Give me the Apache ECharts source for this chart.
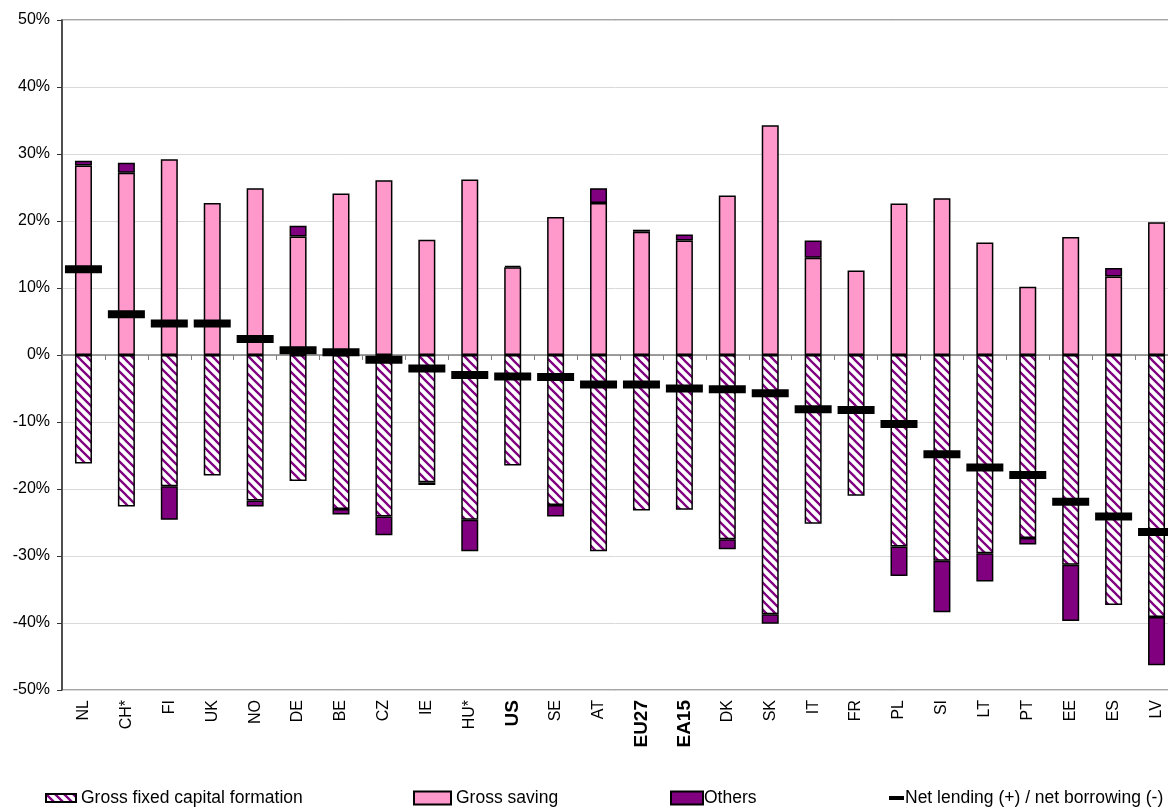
<!DOCTYPE html>
<html>
<head>
<meta charset="utf-8">
<script src="https://cdn.jsdelivr.net/npm/echarts@6/dist/echarts.min.js"></script>
<style>
html,body{margin:0;padding:0;background:#fff;overflow:hidden;}
#chart{width:1168px;height:809px;}
</style>
</head>
<body>
<div id="chart"></div>
<script>
const categories = ['NL','CH*','FI','UK','NO','DE','BE','CZ','IE','HU*','US','SE','AT','EU27','EA15','DK','SK','IT','FR','PL','SI','LT','PT','EE','ES','LV'];
const boldCats = ['US','EU27','EA15'];
const gfcf = [-16.2,-22.6,-19.6,-18.0,-21.7,-18.8,-23.0,-24.1,-19.0,-24.6,-16.5,-22.4,-29.3,-23.2,-23.1,-27.5,-38.7,-25.2,-21.0,-28.6,-30.7,-29.6,-27.3,-31.3,-37.3,-39.1];
const saving = [28.3,27.2,29.2,22.7,24.9,17.7,24.1,26.1,17.2,26.2,13.1,20.6,22.7,18.4,17.1,23.8,34.3,14.5,12.6,22.6,23.4,16.8,10.2,17.6,11.7,19.8];
const others = [0.7,1.5,-5.0,null,-0.9,1.6,-0.8,-2.8,-0.4,-4.7,0.2,-1.7,2.2,0.3,0.9,-1.5,-1.4,2.6,null,-4.4,-7.7,-4.2,-1.0,-8.4,1.3,-7.2];
const netLending = [12.8,6.1,4.7,4.7,2.4,0.7,0.4,-0.7,-2.0,-3.0,-3.2,-3.3,-4.4,-4.4,-5.0,-5.1,-5.7,-8.1,-8.2,-10.3,-14.8,-16.8,-17.9,-21.9,-24.1,-26.4];
const yTicks = {min:-50, max:50, interval:10};

const FONT = "'Liberation Sans', Arial, sans-serif";

function makeHatch(){
  const s = 9;
  const c = document.createElement('canvas');
  c.width = s; c.height = s;
  const g = c.getContext('2d');
  g.fillStyle = '#ffffff';
  g.fillRect(0,0,s,s);
  g.strokeStyle = '#800080';
  g.lineWidth = 2.3;
  g.beginPath();
  g.moveTo(-2,-2); g.lineTo(s+2,s+2);
  g.moveTo(-2,s-2); g.lineTo(2,s+2);
  g.moveTo(s-2,-2); g.lineTo(s+2,2);
  g.stroke();
  return c;
}
const hatch = {image: makeHatch(), repeat: 'repeat'};

const chart = echarts.init(document.getElementById('chart'), null, {renderer:'canvas'});

function legendAt(left, name, w, h, gap){
  return {orient:'horizontal', top:789, left:left, padding:0, itemGap:0, icon:'rect',
    data:[name], itemWidth:w, itemHeight:h,
    textStyle:{fontFamily:FONT, fontSize:17.5, color:'#000', padding:[0,0,0,gap-5]}};
}

chart.setOption({
  animation:false,
  backgroundColor:'#fff',
  textStyle:{fontFamily:FONT},
  grid:{left:62, width:1116, top:20, bottom:119, show:true, borderColor:'#888', borderWidth:1.5,
        containLabel:false, outerBoundsMode:'none'},
  legend:[
    legendAt(45, 'Gross fixed capital formation', 30, 8, 5),
    legendAt(413, 'Gross saving', 37, 13, 5),
    legendAt(670, 'Others', 32, 13, 1),
    legendAt(889, 'Net lending (+) / net borrowing (-)', 15, 4, 1)
  ],
  xAxis:[
    {type:'category', data:categories, position:'bottom',
     axisLine:{show:false, onZero:false}, axisTick:{show:false},
     axisLabel:{rotate:90, interval:0, margin:10, fontSize:16, color:'#000', fontFamily:FONT,
       formatter:function(v){ return boldCats.indexOf(v)>=0 ? '{b|'+v+'}' : v; },
       rich:{b:{fontWeight:'bold', fontSize:19, fontFamily:FONT, color:'#000'}}},
     splitLine:{show:false}},
    {type:'category', data:categories, position:'top',
     axisLine:{show:true, onZero:true, lineStyle:{color:'#808080', width:1.5}},
     axisTick:{show:true, inside:true, length:5, interval:0, lineStyle:{color:'#808080', width:1}},
     axisLabel:{show:false}, splitLine:{show:false}}
  ],
  yAxis:{type:'value', min:yTicks.min, max:yTicks.max, interval:yTicks.interval,
    axisLine:{show:true, lineStyle:{color:'#333', width:1.5}},
    axisTick:{show:true, length:5, lineStyle:{color:'#333', width:1}},
    axisLabel:{formatter:'{value}%', fontSize:16, color:'#000', margin:12, fontFamily:FONT},
    splitLine:{show:true, lineStyle:{color:'#d9d9d9', width:1}}},
  series:[
    {name:'Gross fixed capital formation', type:'bar', stack:'s', data:gfcf, barWidth:17, xAxisIndex:0,
     itemStyle:{color:hatch, borderColor:'#000', borderWidth:1.5}},
    {name:'Gross saving', type:'bar', stack:'s', data:saving, barWidth:17, xAxisIndex:0,
     itemStyle:{color:'#ff99cc', borderColor:'#000', borderWidth:1.5}},
    {name:'Others', type:'bar', stack:'s', data:others, barWidth:17, xAxisIndex:0,
     itemStyle:{color:'#800080', borderColor:'#000', borderWidth:1.5}},
    {name:'Net lending (+) / net borrowing (-)', type:'scatter', data:netLending, xAxisIndex:0,
     symbol:'rect', symbolSize:[37,8], z:5,
     itemStyle:{color:'#000', opacity:1}}
  ]
});
</script>
</body>
</html>
